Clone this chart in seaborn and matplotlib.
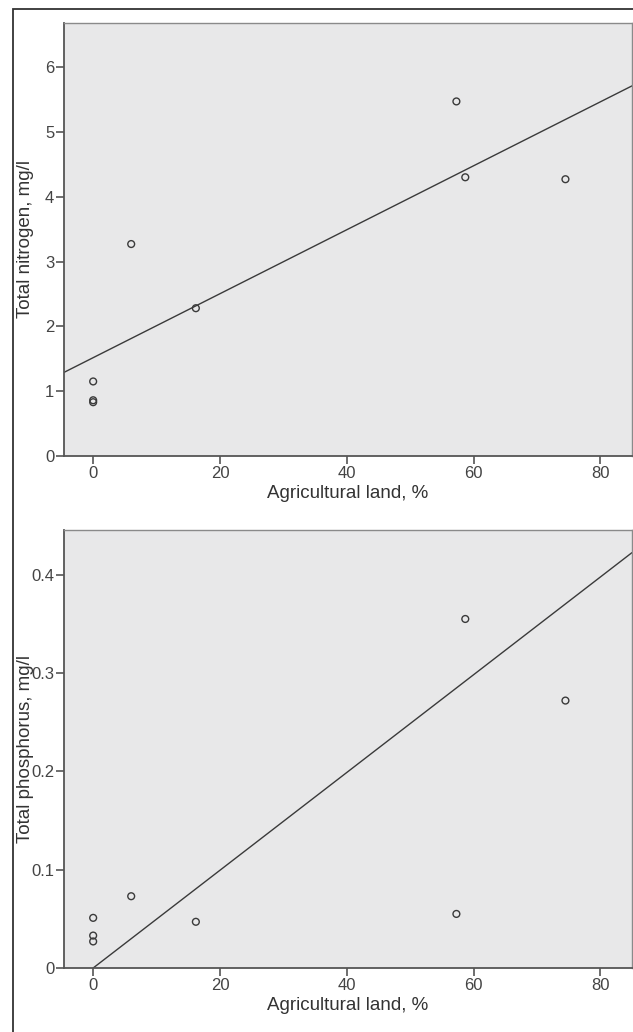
# Agricultural land vs total nitrogen / total phosphorus
import numpy as np
import pandas as pd
import matplotlib
matplotlib.use("Agg")
import matplotlib.pyplot as plt
import seaborn as sns
from matplotlib.patches import Rectangle
from matplotlib import font_manager

sns.set_style("white")
plt.rcParams['font.family'] = ['Liberation Sans', 'DejaVu Sans']

# ---- data ----
agri_land = [0, 0, 0, 6.0, 16.2, 57.3, 58.7, 74.5]
nitrogen = [1.15, 0.86, 0.83, 3.27, 2.28, 5.47, 4.30, 4.27]
phosphorus = [0.051, 0.033, 0.027, 0.073, 0.047, 0.055, 0.355, 0.272]

# fitted lines (end points)
n_line_x = [-4.6, 85.0]
n_line_y = [1.29, 5.71]
p_line_x = [0.0, 85.0]
p_line_y = [0.0, 0.4225]

x_ticks = [0, 20, 40, 60, 80]
n_ticks = [0, 1, 2, 3, 4, 5, 6]
p_ticks = [0, 0.1, 0.2, 0.3, 0.4]
p_tick_labels = ["0", "0.1", "0.2", "0.3", "0.4"]

df = pd.DataFrame({"agri": agri_land, "N": nitrogen, "P": phosphorus})

# narrow font for tick labels if it is there
names = {f.name for f in font_manager.fontManager.ttflist}
if "Liberation Sans Narrow" in names:
    tick_kw = dict(family="Liberation Sans Narrow", fontsize=14)
else:
    tick_kw = dict(family="Liberation Sans", fontsize=12, fontstretch="condensed")

# ---- figure ----
fig = plt.figure(figsize=(6.33, 10.32), dpi=100)
W, H = 633, 1032
ax1 = fig.add_axes([64 / W, 1 - 456 / H, 568 / W, 433 / H])
ax2 = fig.add_axes([64 / W, 1 - 968 / H, 568 / W, 438 / H])

panels = [
    (ax1, "N", n_line_x, n_line_y, (0, 6.68), n_ticks, [str(t) for t in n_ticks],
     "Total nitrogen, mg/l"),
    (ax2, "P", p_line_x, p_line_y, (0, 0.4455), p_ticks, p_tick_labels,
     "Total phosphorus, mg/l"),
]

for ax, col, lx, ly, ylim, yt, ytl, ylab in panels:
    ax.set_facecolor("#e8e8e9")
    sns.lineplot(x=lx, y=ly, ax=ax, color="#3a3a3a", linewidth=1.0)
    sns.scatterplot(data=df, x="agri", y=col, ax=ax, s=24,
                    facecolor="none", edgecolor="#3a3a3a", linewidth=1.0)
    ax.set_xlim(-4.6, 85.0)
    ax.set_ylim(*ylim)
    ax.set_xticks(x_ticks)
    ax.set_xticklabels([str(t) for t in x_ticks], color="#444444", **tick_kw)
    ax.set_yticks(yt)
    ax.set_yticklabels(ytl, color="#444444", **tick_kw)
    ax.tick_params(axis="both", direction="out", length=6, width=1.2,
                   color="#555555", pad=1, left=True, bottom=True)
    ax.set_xlabel("Agricultural land, %", fontsize=13.5, color="#333333", labelpad=3)
    ax.set_ylabel(ylab, fontsize=13.5, color="#333333")
    ax.yaxis.set_label_coords(-0.053, 0.5)
    for side in ["left", "bottom"]:
        ax.spines[side].set_color("#555555")
        ax.spines[side].set_linewidth(1.3)
    for side in ["top", "right"]:
        ax.spines[side].set_color("#8a8a8a")
        ax.spines[side].set_linewidth(1.0)

# outer frame
fig.patches.append(Rectangle((13 / W, -0.05), 1.2, 1 - 9 / H + 0.05,
                             transform=fig.transFigure, fill=False,
                             edgecolor="#333333", linewidth=1.3))

fig.savefig("out.png", dpi=100, facecolor="white")
